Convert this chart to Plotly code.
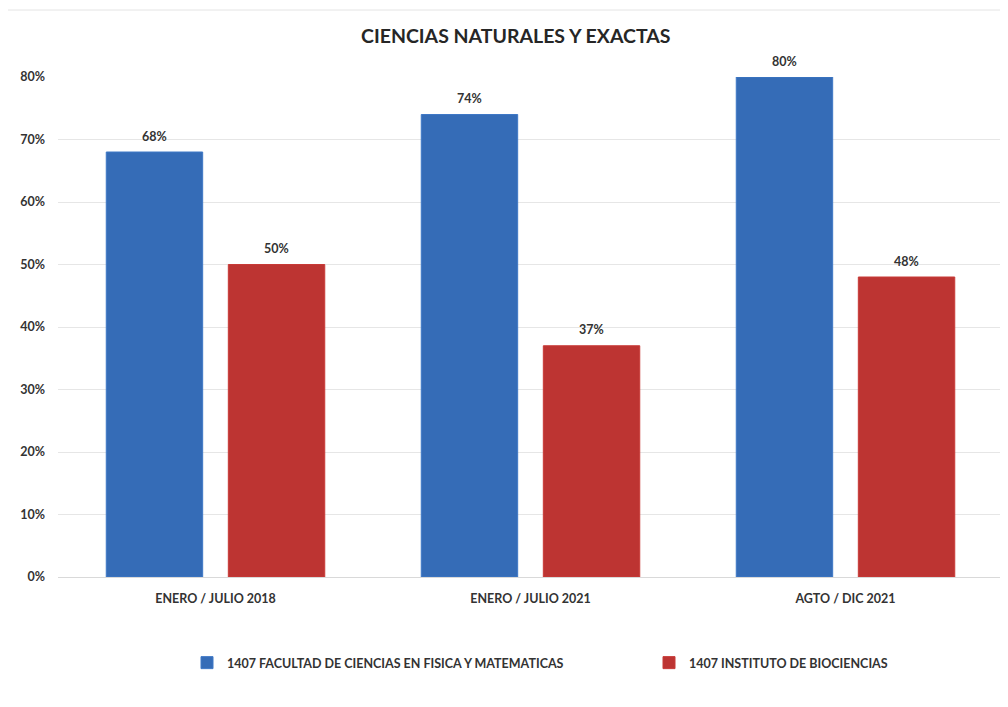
import plotly.graph_objects as go

categories = ["ENERO / JULIO 2018", "ENERO / JULIO 2021", "AGTO / DIC 2021"]
series_names = ["1407 FACULTAD DE CIENCIAS EN FISICA Y MATEMATICAS", "1407 INSTITUTO DE BIOCIENCIAS"]
fcfm_values = [0.68, 0.74, 0.80]
bio_values = [0.50, 0.37, 0.48]
y_ticks = [0, 0.1, 0.2, 0.3, 0.4, 0.5, 0.6, 0.7, 0.8]
y_tick_labels = ["0%", "10%", "20%", "30%", "40%", "50%", "60%", "70%", "80%"]

FONT = "Lato, 'Open Sans', sans-serif"
TXT = "#333333"

# Page has an 8px body margin: figure pixel = page pixel - 8
W, H = 1000, 699
L, R, T, B = 50, 5, 69, 130
PW = W - L - R
PH = H - T - B

fig = go.Figure()
fig.add_trace(go.Bar(
    x=categories, y=fcfm_values, name=series_names[0], legend="legend",
    marker=dict(color="#356cb7", line=dict(color="#3f78c6", width=1)),
))
fig.add_trace(go.Bar(
    x=categories, y=bio_values, name=series_names[1], legend="legend2",
    marker=dict(color="#bd3432", line=dict(color="#c83a37", width=1)),
))

# data labels above bars (bar offset within a group = half a slot)
slot_px = PW / len(categories) * (1 - 0.225) / 2
annotations = []
for vals, sgn in ((fcfm_values, -1), (bio_values, 1)):
    for c, v in zip(categories, vals):
        annotations.append(dict(
            x=c, y=v, xref="x", yref="y", text=f"<b>{round(v * 100)}%</b>",
            showarrow=False, xshift=sgn * slot_px / 2, yshift=16,
            yanchor="middle", font=dict(family=FONT, size=12.5, color=TXT),
        ))
annotations.append(dict(
    text="<b>CIENCIAS NATURALES Y EXACTAS</b>", xref="paper", yref="paper",
    x=(515 - 8 - L) / PW, y=1.0 + (T - (36 - 8)) / PH, xanchor="center", yanchor="middle",
    showarrow=False, font=dict(family=FONT, size=19.5, color="#262626"),
))

legend_style = dict(
    orientation="h", yanchor="middle", y=-(663 - 577) / PH, xanchor="left",
    font=dict(family=FONT, size=12.5, color=TXT, weight="bold"),
    bgcolor="rgba(0,0,0,0)",
)

fig.update_layout(
    width=W, height=H,
    margin=dict(l=L, r=R, t=T, b=B),
    paper_bgcolor="white", plot_bgcolor="white",
    barmode="group", bargap=0.225, bargroupgap=0.21,
    font=dict(family=FONT, color=TXT),
    showlegend=True,
    legend=dict(x=(187 - 8 - L) / PW, **legend_style),
    legend2=dict(x=(649 - 8 - L) / PW, **legend_style),
    annotations=annotations,
    shapes=[dict(
        type="rect", xref="paper", yref="paper",
        x0=(7 - 8 - L) / PW, x1=(1004 - 8 - L) / PW,
        y0=-(720 - 577) / PH, y1=1.0 + (77 - 10) / PH,
        line=dict(color="#e4e4e4", width=1), fillcolor="rgba(0,0,0,0)", layer="below",
    )],
)
fig.update_xaxes(
    showgrid=False, showline=True, linecolor="#d9d9d9", linewidth=1,
    ticks="", tickfont=dict(family=FONT, size=12.5, color=TXT, weight="bold"),
    ticklabelstandoff=10,
)
fig.update_yaxes(
    range=[0, 0.8], tickvals=y_ticks, ticktext=y_tick_labels,
    showgrid=True, gridcolor="#e6e6e6", gridwidth=1, zeroline=False,
    showline=False, ticks="",
    tickfont=dict(family=FONT, size=12.5, color=TXT, weight="bold"),
    ticklabelstandoff=12,
)

fig.write_html("out.html")
